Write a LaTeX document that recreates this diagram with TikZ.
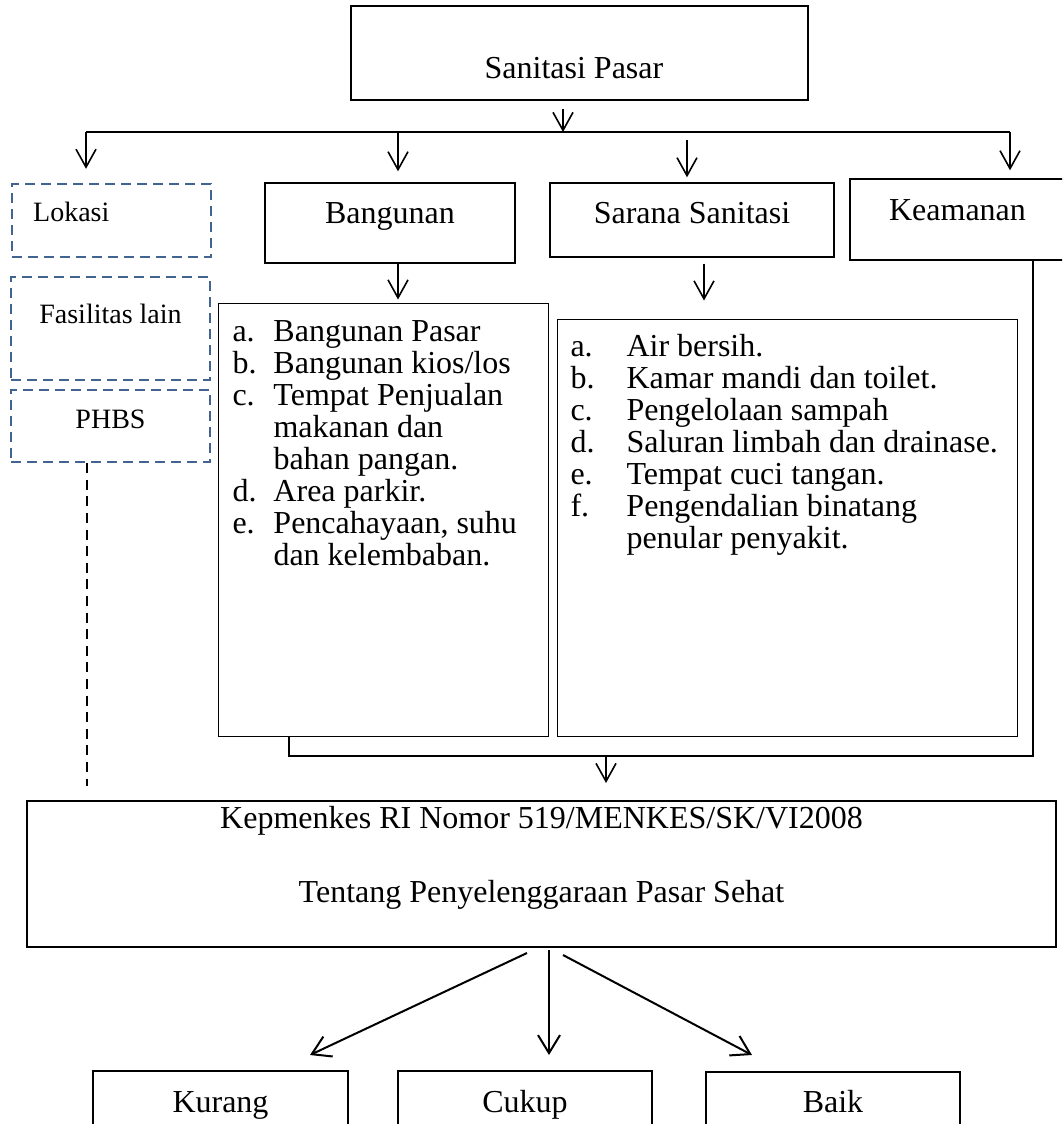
\documentclass[tikz,border=0pt]{standalone}
\usepackage{fontspec}
\setmainfont{Liberation Serif}
\usetikzlibrary{arrows.meta}
\definecolor{dblue}{RGB}{65,100,145}
\newcommand{\fsA}{\fontsize{16}{16}\selectfont}
\newcommand{\fsB}{\fontsize{14}{14}\selectfont}
\begin{document}
\begin{tikzpicture}[x=0.5pt,y=-0.5pt,
  box/.style={draw, line width=1pt, inner sep=0pt, font=\fsA},
  midbox/.style={draw, line width=0.7pt, inner sep=0pt, font=\fsA},
  listbox/.style={draw, line width=0.5pt, inner ysep=0pt, font=\fsA},
  dbox/.style={draw=dblue, line width=1.2pt, dash pattern=on 5pt off 3pt, inner sep=0pt, minimum width=99.5pt, font=\fsB},
  conn/.style={line width=0.7pt},
  arr/.style={-{Straight Barb[length=9pt,width=10pt]}, line width=0.8pt},
  arrb/.style={-{Straight Barb[length=9pt,width=11pt]}, line width=1pt},
  dline/.style={line width=1pt, dash pattern=on 5pt off 3.3pt}]
\useasboundingbox (0,0) rectangle (1062,1124);
\clip (0,0) rectangle (1062,1124);

% top box
\node[box, minimum width=228.5pt, text height=36pt, text depth=11pt, anchor=base] (san) at (579.5,78) {\kern-5.5pt Sanitasi Pasar};

% second row
\node[dbox, inner xsep=10.5pt, text height=18.5pt, text depth=18pt, anchor=base west] (lok) at (11,221) {\makebox[78.5pt][l]{Lokasi}};
\node[dbox, text height=23pt, text depth=28.5pt, anchor=base] (fas) at (110.5,323) {Fasilitas lain};
\node[dbox, text height=19pt, text depth=17pt, anchor=base] (phbs) at (110.5,428) {PHBS};

\node[midbox, minimum width=125pt, text height=20pt, text depth=20pt, anchor=base] (bang) at (390,223) {Bangunan};
\node[midbox, minimum width=142pt, text height=20pt, text depth=17pt, anchor=base] (sar) at (692,223) {Sarana Sanitasi};
\node[midbox, minimum width=120pt, text height=20.5pt, text depth=20pt, anchor=base] (kea) at (970,220) {Keamanan\kern12.5pt};

% lists
\node[listbox, inner xsep=7pt, text height=19pt, text depth=197.5pt, anchor=base west] (blist) at (218,341)
 {\begin{tabular}[t]{@{}p{20.5pt}@{}p{130.5pt}@{}}
  a. & Bangunan Pasar\\
  b. & Bangunan kios/los\\
  c. & Tempat Penjualan\\
     & makanan dan\\
     & bahan pangan.\\
  d. & Area parkir.\\
  e. & Pencahayaan, suhu\\
     & dan kelembaban.
  \end{tabular}};
\node[listbox, inner xsep=6.5pt, text height=18.5pt, text depth=190pt, anchor=base west] (slist) at (557,356)
 {\begin{tabular}[t]{@{}p{28pt}@{}p{189pt}@{}}
  a. & Air bersih.\\
  b. & Kamar mandi dan toilet.\\
  c. & Pengelolaan sampah\\
  d. & Saluran limbah dan drainase.\\
  e. & Tempat cuci tangan.\\
  f. & Pengendalian binatang\\
     & penular penyakit.
  \end{tabular}};

% Kepmenkes box
\node[box, minimum width=514.5pt, text height=13.5pt, text depth=59.5pt, anchor=base] (kep) at (541.5,828)
 {\begin{tabular}[t]{@{}c@{}}Kepmenkes RI Nomor 519/MENKES/SK/VI2008\\[21pt]
   Tentang Penyelenggaraan Pasar Sehat\end{tabular}};

% result boxes
\node[box, minimum width=127.5pt, text height=20.5pt, text depth=14pt, anchor=base] (kur) at (220.5,1112) {Kurang};
\node[box, minimum width=127pt, text height=20.5pt, text depth=14pt, anchor=base] (cuk) at (525,1112) {Cukup};
\node[box, minimum width=127pt, text height=20pt, text depth=14pt, anchor=base] (bai) at (833,1112) {Baik};

% fork under top box
\coordinate (fork) at (563,132);
\coordinate (fl) at (86,132);
\coordinate (fr) at (1010,132);
\coordinate (fb) at (398,132);
\coordinate (fs) at (687,140);
\draw[conn] (fl) -- (fr);
\draw[arr, shorten <=4pt] (san.south -| fork) -- (fork);
\draw[arr, shorten >=7pt] (fl) -- (lok.north -| fl);
\draw[arr, shorten >=5.5pt] (fb) -- (bang.north -| fb);
\draw[arr, shorten >=2.5pt] (fs) -- (sar.north -| fs);
\draw[arr, shorten >=4pt] (fr) -- (kea.north -| fr);

% to lists
\draw[arr, shorten >=1.5pt] (bang.south -| fb) -- (blist.north -| fb);
\coordinate (sx) at (704,300);
\draw[arr, shorten <=3pt, shorten >=9pt] (sar.south -| sx) -- (slist.north -| sx);

% joining connector
\coordinate (jl) at (289,756);
\coordinate (jr) at (1033,756);
\coordinate (jd) at (606,756);
\draw[conn] (blist.south -| jl) -- (jl) -- (jr) -- (kea.south -| jr);
\draw[arr, shorten >=8.5pt] (jd) -- (kep.north -| jd);

% PHBS dashed line
\coordinate (px) at (87,600);
\draw[dline, shorten >=7pt] (phbs.south -| px) -- (kep.north -| px);

% result arrows
\coordinate (s1) at (527,953);
\coordinate (t1) at (310,1055);
\coordinate (s2) at (549,950);
\coordinate (t2) at (549,1055);
\coordinate (s3) at (563,955);
\coordinate (t3) at (752,1055);
\draw[arrb] (s1) -- (t1);
\draw[arrb] (s2) -- (t2);
\draw[arrb] (s3) -- (t3);
\end{tikzpicture}
\end{document}
